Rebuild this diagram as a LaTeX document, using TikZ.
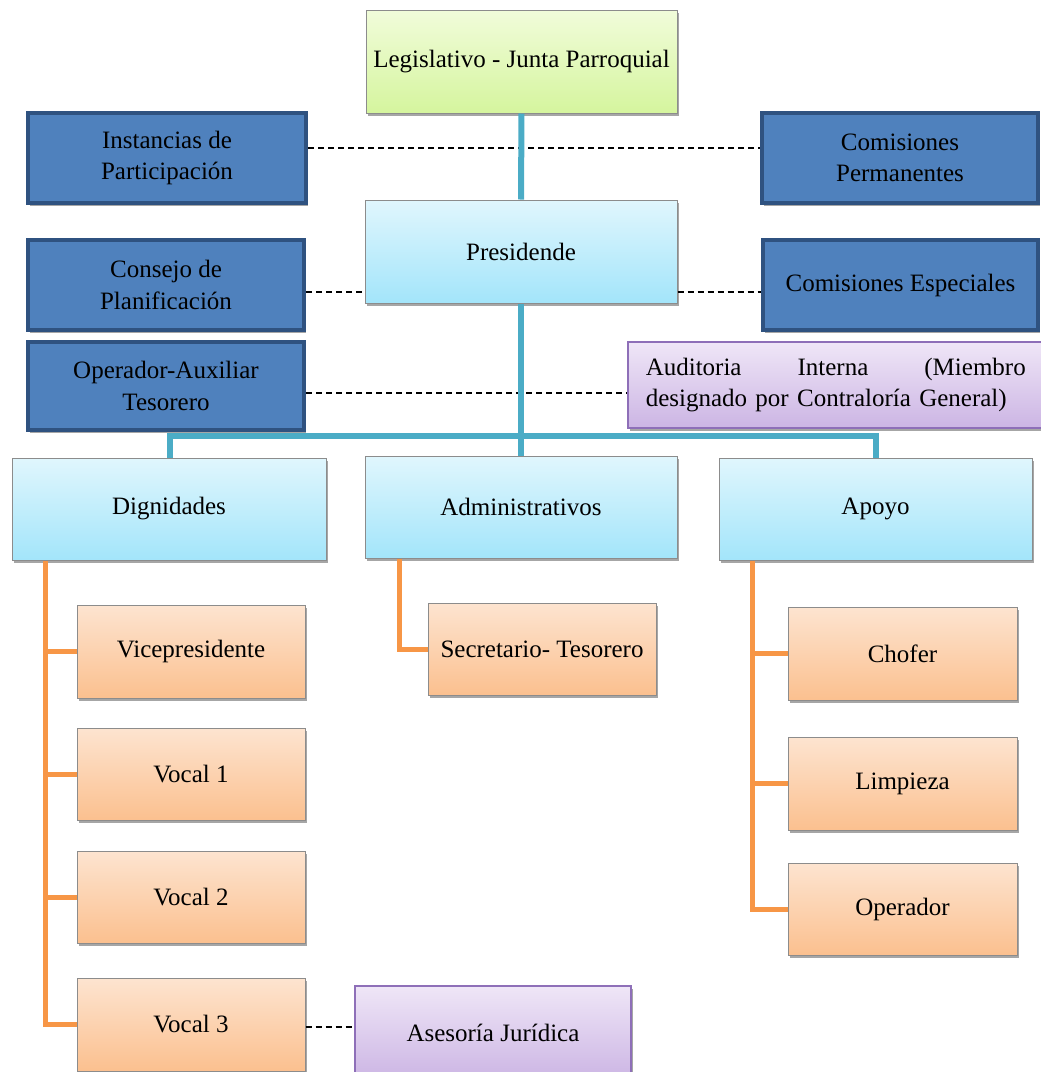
\documentclass[tikz,border=0pt]{standalone}
\usepackage{fontspec}
\setmainfont{Liberation Serif}
\usetikzlibrary{shadows}
\definecolor{tealline}{HTML}{4BACC6}
\definecolor{orangeline}{HTML}{F79646}
\definecolor{bluefill}{HTML}{4F81BD}
\definecolor{blueedge}{HTML}{2F5280}
\definecolor{boxedge}{HTML}{8C8C8C}
\definecolor{purpleedge}{HTML}{8E6FB8}
\tikzset{
  base/.style={draw, inner sep=0pt, align=center, font=\fontsize{25}{31.5}\selectfont,
    drop shadow={shadow xshift=2pt, shadow yshift=-3pt, opacity=.35, fill=black}},
  greenbox/.style={base, draw=boxedge, line width=1pt, top color={rgb,255:red,241;green,252;blue,218}, bottom color={rgb,255:red,213;green,245;blue,158}},
  darkbox/.style={base, draw=blueedge, line width=4pt, fill=bluefill},
  lightbox/.style={base, draw=boxedge, line width=1pt, top color={rgb,255:red,224;green,246;blue,253}, bottom color={rgb,255:red,163;green,229;blue,250}},
  orangebox/.style={base, draw=boxedge, line width=1pt, top color={rgb,255:red,253;green,228;blue,208}, bottom color={rgb,255:red,251;green,192;blue,143}},
  purplebox/.style={base, draw=purpleedge, line width=1.5pt, top color={rgb,255:red,239;green,230;blue,247}, bottom color={rgb,255:red,204;green,181;blue,228}},
  tealconn/.style={draw=tealline, line width=6pt},
  orangeconn/.style={draw=orangeline, line width=5pt},
  dashconn/.style={draw=black, line width=1.2pt, dash pattern=on 6pt off 4pt},
}
\begin{document}
\begin{tikzpicture}[x=1pt, y=-1pt]
\useasboundingbox (0,0) rectangle (1041,1072);
\clip (0,0) rectangle (1041,1072);

\node[darkbox, minimum width=278, minimum height=90] (inst) at (167,158) {Instancias de\\Participación};
\node[darkbox, minimum width=276, minimum height=90] (comp) at (900,158) {Comisiones\\Permanentes};
\node[darkbox, minimum width=276, minimum height=90] (cons) at (166,285) {Consejo de\\Planificación};
\node[darkbox, minimum width=275, minimum height=90] (come) at (900.5,285) {Comisiones Especiales};
\node[darkbox, minimum width=276, minimum height=88] (oper) at (166,386) {Operador-Auxiliar\\Tesorero};
\node[purplebox, anchor=west, minimum height=86, text width=380, inner xsep=18pt, align=left] (aud) at (627,385) {Auditoria\hfill Interna\hfill (Miembro\\designado por Contraloría General)};

\node[greenbox, minimum width=311, minimum height=103] (leg) at (521.5,61.5) {Legislativo - Junta Parroquial};
\node[lightbox, minimum width=312, minimum height=103] (pres) at (521,251.5) {Presidende};

\node[lightbox, minimum width=314, minimum height=102] (dig) at (169,509) {Dignidades};
\node[lightbox, minimum width=312, minimum height=102] (adm) at (521,507) {Administrativos};
\node[lightbox, minimum width=313, minimum height=102] (apo) at (875.5,509) {Apoyo};

\node[orangebox, minimum width=228, minimum height=93] (vice) at (191,651.5) {Vicepresidente};
\node[orangebox, minimum width=228, minimum height=92] (v1) at (191,774) {Vocal 1};
\node[orangebox, minimum width=228, minimum height=92] (v2) at (191,897) {Vocal 2};
\node[orangebox, minimum width=228, minimum height=93] (v3) at (191,1024.5) {Vocal 3};
\node[purplebox, minimum width=276, minimum height=94] (ase) at (493,1033) {Asesoría Jurídica};

\node[orangebox, minimum width=228, minimum height=92] (sec) at (542,649) {Secretario- Tesorero};

\node[orangebox, minimum width=229, minimum height=93] (cho) at (902.5,653.5) {Chofer};
\node[orangebox, minimum width=229, minimum height=93] (lim) at (902.5,783.5) {Limpieza};
\node[orangebox, minimum width=229, minimum height=92] (ope) at (902.5,909) {Operador};

% dashed lines
\draw[dashconn] (inst.east |- 0,148) -- (comp.west |- 0,148);
\draw[dashconn] (cons.east |- 0,292) -- (pres.west |- 0,292);
\draw[dashconn] (pres.east |- 0,292) -- (come.west |- 0,292);
\draw[dashconn] (oper.east |- 0,393) -- (aud.west |- 0,393);
\draw[dashconn] (v3.east |- 0,1027) -- (ase.west |- 0,1027);

% teal hierarchy
\coordinate (bus) at (521,436);
\draw[tealconn] (leg.south) -- (pres.north);
\draw[tealconn] (pres.south) -- (adm.north);
\draw[tealconn] (dig.north -| 170,0) |- (bus) -| (apo.north -| 876,0);

% orange hierarchy
\coordinate (dtop) at (dig.south -| 45,0);
\draw[orangeconn] (dtop) |- (v3.west);
\draw[orangeconn] (vice.west) -- (vice.west -| dtop);
\draw[orangeconn] (v1.west) -- (v1.west -| dtop);
\draw[orangeconn] (v2.west) -- (v2.west -| dtop);

\coordinate (atop) at (adm.south -| 399,0);
\draw[orangeconn] (atop) |- (sec.west);

\coordinate (ptop) at (apo.south -| 752,0);
\draw[orangeconn] (ptop) |- (ope.west);
\draw[orangeconn] (cho.west) -- (cho.west -| ptop);
\draw[orangeconn] (lim.west) -- (lim.west -| ptop);
\end{tikzpicture}
\end{document}
